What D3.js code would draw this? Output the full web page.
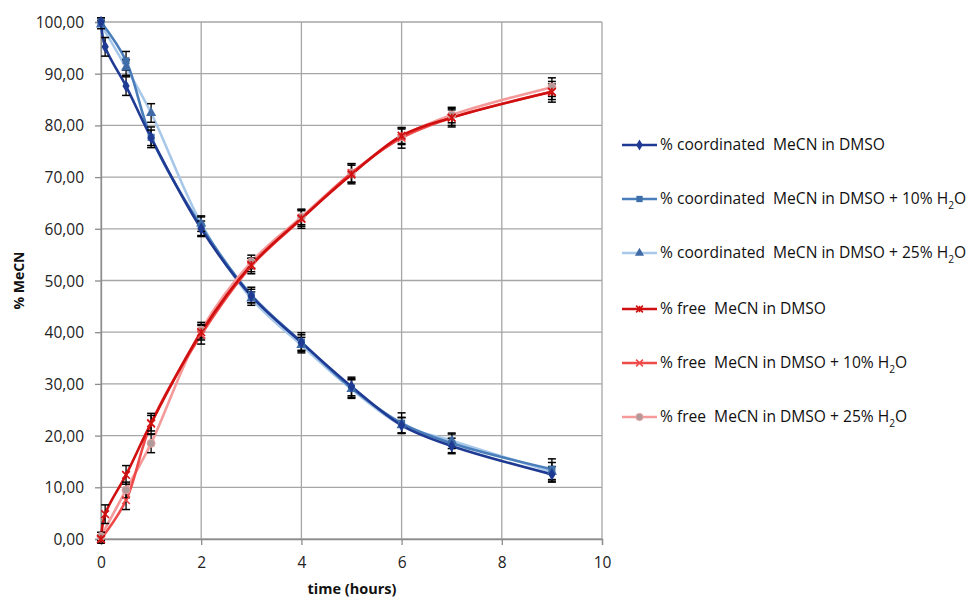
<!DOCTYPE html>
<html><head><meta charset="utf-8">
<script src="https://cdn.jsdelivr.net/npm/d3@7"></script>
<style>body{margin:0;background:#fff}svg{display:block}text{white-space:pre}</style>
</head><body><svg id="c" width="969" height="599"></svg>
<script>
// ---- data ----
const timeCoordDMSO = [0, 0.083, 0.5, 1, 2, 3, 4, 5, 6, 7, 9];
const coordDMSO     = [100, 95.2, 87.6, 77.6, 60.0, 47.0, 38.0, 29.5, 22.0, 18.0, 12.5];
const coordDMSOErr  = [0.8, 1.8, 1.8, 1.5, 1.5, 1.3, 1.5, 1.8, 1.5, 1.5, 1.5];
const timeStd = [0, 0.5, 1, 2, 3, 4, 5, 6, 7, 9];
const coord10       = [100, 92.5, 77.7, 60.5, 47.2, 38.1, 29.2, 22.4, 18.5, 13.5];
const coord10Err    = [0.8, 1.8, 2.0, 1.8, 1.5, 1.8, 1.8, 2.0, 1.8, 2.0];
const coord25       = [99.5, 91.2, 82.4, 61.0, 46.5, 37.5, 29.0, 22.0, 19.0, 13.0];
const coord25Err    = [0.8, 1.5, 1.8, 1.5, 1.3, 1.5, 1.8, 1.5, 1.5, 1.8];
const timeFreeDMSO = [0, 0.083, 0.5, 1, 2, 3, 4, 5, 6, 7, 9];
const freeDMSO      = [0, 4.8, 12.4, 22.4, 40.0, 53.0, 62.0, 70.5, 78.0, 81.5, 86.5];
const freeDMSOErr   = [0.8, 1.8, 1.8, 1.5, 1.5, 1.3, 1.5, 1.8, 1.5, 1.5, 1.5];
const free10        = [0, 7.5, 22.3, 39.5, 52.8, 61.9, 70.8, 77.6, 81.5, 86.5];
const free10Err     = [0.8, 1.8, 2.0, 1.8, 1.5, 1.8, 1.8, 2.0, 1.8, 2.0];
const free25        = [0.5, 9.5, 18.5, 40.4, 53.6, 62.3, 70.8, 77.8, 82.0, 87.4];
const free25Err     = [0.8, 1.5, 1.8, 1.5, 1.3, 1.5, 1.8, 1.5, 1.5, 1.8];
const xTicks = [0, 2, 4, 6, 8, 10];
const yTicks = [0, 10, 20, 30, 40, 50, 60, 70, 80, 90, 100];
const seriesNames = [
  ["% coordinated  MeCN in DMSO", null],
  ["% coordinated  MeCN in DMSO + 10% H", "2", "O"],
  ["% coordinated  MeCN in DMSO + 25% H", "2", "O"],
  ["% free  MeCN in DMSO", null],
  ["% free  MeCN in DMSO + 10% H", "2", "O"],
  ["% free  MeCN in DMSO + 25% H", "2", "O"]
];

const series = [
  {t: timeCoordDMSO, v: coordDMSO, e: coordDMSOErr, line: "#1f3a93", mk: "diamond", mfill: "#1f3a93"},
  {t: timeStd, v: coord10, e: coord10Err, line: "#4a7ebb", mk: "square", mfill: "#3f6fa8"},
  {t: timeStd, v: coord25, e: coord25Err, line: "#a8c8ea", mk: "triangle", mfill: "#3f6aa6"},
  {t: timeFreeDMSO, v: freeDMSO, e: freeDMSOErr, line: "#d01010", mk: "star", mfill: "#d01010"},
  {t: timeStd, v: free10, e: free10Err, line: "#ee4a4a", mk: "x", mfill: "#ee4a4a"},
  {t: timeStd, v: free25, e: free25Err, line: "#f59a9a", mk: "circle", mfill: "#b09a9a"}
];

const svg = d3.select("#c");
const FONT = "'Open Sans', sans-serif";
const x = d3.scaleLinear().domain([0, 10]).range([101, 602]);
const y = d3.scaleLinear().domain([0, 100]).range([539, 22]);

function fit(sel, target) {
  const n = sel.node();
  const fs = parseFloat(sel.attr("font-size"));
  const w = n.getComputedTextLength();
  if (w > 0) sel.attr("font-size", (fs * target / w).toFixed(2));
}

// grid
const g = svg.append("g");
g.selectAll(".gx").data(xTicks).join("line")
  .attr("x1", d => x(d)).attr("x2", d => x(d)).attr("y1", y(100)).attr("y2", y(0))
  .attr("stroke", "#a6a6a6").attr("stroke-width", 1.3);
g.selectAll(".gy").data(yTicks).join("line")
  .attr("x1", x(0)).attr("x2", x(10)).attr("y1", d => y(d)).attr("y2", d => y(d))
  .attr("stroke", "#a6a6a6").attr("stroke-width", 1.3);

// axes
const fmt = d => d3.format(".2f")(d).replace(".", ",");
const ya = svg.append("g").attr("transform", `translate(${x(0)},0)`)
  .call(d3.axisLeft(y).tickValues(yTicks).tickFormat(fmt).tickSize(6).tickPadding(11));
const xa = svg.append("g").attr("transform", `translate(0,${y(0)})`)
  .call(d3.axisBottom(x).tickValues(xTicks).tickSize(6).tickPadding(12));
[ya, xa].forEach(a => {
  a.select(".domain").attr("stroke", "#8c8c8c").attr("stroke-width", 1.3);
  a.selectAll(".tick line").attr("stroke", "#8c8c8c").attr("stroke-width", 1.3);
  a.selectAll("text").attr("font-family", FONT).attr("font-size", 15.5).attr("fill", "#222");
});
ya.selectAll("text").attr("dy", "0.36em");

const xt = svg.append("text").attr("x", 352).attr("y", 594).attr("text-anchor", "middle")
  .attr("font-family", FONT).attr("font-size", 14).attr("font-weight", "bold").attr("fill", "#111")
  .text("time (hours)");
fit(xt, 89);
const yt = svg.append("text").attr("transform", `translate(24,${(y(0)+y(100))/2}) rotate(-90)`)
  .attr("text-anchor", "middle").attr("font-family", FONT).attr("font-size", 14)
  .attr("font-weight", "bold").attr("fill", "#111").text("% MeCN");
fit(yt, 58);

function marker(sel, type, cx, cy, fill, s) {
  s = s || 1;
  if (type === "diamond") sel.append("path").attr("d", d3.symbol(d3.symbolDiamond, 45*s)()).attr("transform", `translate(${cx},${cy})`).attr("fill", fill);
  else if (type === "square") sel.append("path").attr("d", d3.symbol(d3.symbolSquare, 50*s)()).attr("transform", `translate(${cx},${cy})`).attr("fill", fill);
  else if (type === "triangle") sel.append("path").attr("d", d3.symbol(d3.symbolTriangle, 45*s)()).attr("transform", `translate(${cx},${cy})`).attr("fill", fill);
  else if (type === "circle") sel.append("path").attr("d", d3.symbol(d3.symbolCircle, 50*s)()).attr("transform", `translate(${cx},${cy})`).attr("fill", fill).attr("stroke", "#e8a0a0").attr("stroke-width", 1);
  else if (type === "star") {
    sel.append("path").attr("d", d3.symbol(d3.symbolTimes, 40*s)()).attr("transform", `translate(${cx},${cy})`).attr("fill", "none").attr("stroke", fill).attr("stroke-width", 1.6);
    sel.append("line").attr("x1", cx).attr("x2", cx).attr("y1", cy-4*s).attr("y2", cy+4*s).attr("stroke", fill).attr("stroke-width", 1.6);
  } else if (type === "x") {
    sel.append("path").attr("d", d3.symbol(d3.symbolTimes, 40*s)()).attr("transform", `translate(${cx},${cy})`).attr("fill", "none").attr("stroke", fill).attr("stroke-width", 1.6);
  }
}

const line = d3.line().curve(d3.curveCatmullRom.alpha(0.5)).x(d => x(d[0])).y(d => y(d[1]));
const plot = svg.append("g");
[2,1,0,5,4,3].forEach(i => {
  const s = series[i];
  const pts = s.t.map((t, j) => [t, s.v[j]]);
  plot.append("path").datum(pts).attr("d", line).attr("fill", "none")
    .attr("stroke", s.line).attr("stroke-width", 2.6).attr("stroke-linejoin", "round");
});
const eb = svg.append("g");
series.forEach(s => {
  s.t.forEach((t, j) => {
    const cx = x(t), y1 = y(s.v[j] + s.e[j]), y2 = y(s.v[j] - s.e[j]);
    eb.append("line").attr("x1", cx).attr("x2", cx).attr("y1", y1).attr("y2", y2).attr("stroke", "#000").attr("stroke-width", 1.3);
    [y1, y2].forEach(yy => eb.append("line").attr("x1", cx-4).attr("x2", cx+4).attr("y1", yy).attr("y2", yy).attr("stroke", "#000").attr("stroke-width", 1.5));
  });
});
const mg = svg.append("g");
[2,1,0,5,4,3].forEach(i => {
  const s = series[i];
  s.t.forEach((t, j) => marker(mg, s.mk, x(t), y(s.v[j]), s.mfill));
});

// legend
const legY = [145, 199, 253, 309, 363, 417];
const lg = svg.append("g");
let legFs = 15;
{
  const probe = svg.append("text").attr("font-family", FONT).attr("font-size", 15).text(seriesNames[0][0]);
  const w = probe.node().getComputedTextLength();
  legFs = 15 * 225 / w;
  probe.remove();
}
series.forEach((s, i) => {
  const yy = legY[i];
  lg.append("line").attr("x1", 622).attr("x2", 657).attr("y1", yy).attr("y2", yy).attr("stroke", s.line).attr("stroke-width", 2.6);
  marker(lg, s.mk, 639.5, yy, s.mfill, 0.8);
  const nm = seriesNames[i];
  const tx = lg.append("text").attr("x", 660).attr("y", yy + 5).attr("font-family", FONT).attr("font-size", legFs).attr("fill", "#111");
  tx.append("tspan").text(nm[0]);
  if (nm[1]) {
    tx.append("tspan").attr("font-size", legFs * 0.65).attr("dy", 5).text(nm[1]);
    tx.append("tspan").attr("dy", -5).text(nm[2]);
  }
});
</script></body></html>
